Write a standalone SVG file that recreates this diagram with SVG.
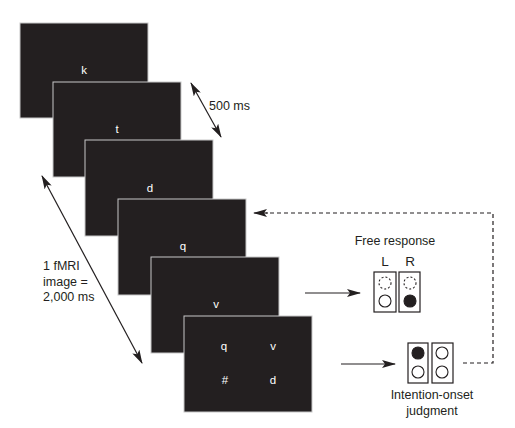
<svg xmlns="http://www.w3.org/2000/svg" width="515" height="428" viewBox="0 0 515 428">
<defs>
<style>
.frame{fill:#231f20;stroke:#c8c8c8;stroke-width:1}
.ltr{font-family:"Liberation Sans",Arial,sans-serif;font-size:11.5px;fill:#ffffff;text-anchor:middle}
.lbl{font-family:"Liberation Sans",Arial,sans-serif;font-size:12.5px;fill:#231f20}
.mid{text-anchor:middle}
.line{stroke:#231f20;stroke-width:1.2;fill:none}
.dash{stroke:#231f20;stroke-width:1.2;fill:none;stroke-dasharray:4,3}
.box{fill:#ffffff;stroke:#231f20;stroke-width:1.2}
.circ{fill:#ffffff;stroke:#231f20;stroke-width:1.1}
.circd{fill:#ffffff;stroke:#231f20;stroke-width:1.1;stroke-dasharray:2,2}
.circf{fill:#231f20;stroke:#231f20;stroke-width:1.1}
</style>
<marker id="ah" viewBox="0 0 14 8" refX="13" refY="4" markerWidth="14" markerHeight="8" markerUnits="userSpaceOnUse" orient="auto-start-reverse">
<path d="M0,0 L14,4 L0,8 L3,4 z" fill="#231f20"/>
</marker>
</defs>
<rect width="515" height="428" fill="#ffffff"/>
<g id="frame1"><rect class="frame" x="20" y="23" width="128" height="95"/><text class="ltr" x="84" y="74">k</text></g>
<g id="frame2"><rect class="frame" x="53" y="82" width="128" height="95"/><text class="ltr" x="117" y="133">t</text></g>
<g id="frame3"><rect class="frame" x="85" y="140" width="128" height="96"/><text class="ltr" x="150" y="192">d</text></g>
<g id="frame4"><rect class="frame" x="118" y="199" width="128" height="96"/><text class="ltr" x="183" y="250">q</text></g>
<g id="frame5"><rect class="frame" x="151" y="257" width="128" height="96"/><text class="ltr" x="216" y="308">v</text></g>
<g id="frame6"><rect class="frame" x="184" y="316" width="128" height="96"/>
<text class="ltr" x="224" y="350">q</text><text class="ltr" x="273" y="350">v</text>
<text class="ltr" x="225" y="384">#</text><text class="ltr" x="273" y="384">d</text></g>
<g id="label-500"><text class="lbl" x="209" y="110">500 ms</text></g>
<g id="label-fmri"><text class="lbl" x="43" y="270">1 fMRI</text><text class="lbl" x="43" y="286">image =</text><text class="lbl" x="43" y="301">2,000 ms</text></g>
<g id="free-response">
<text class="lbl mid" x="395" y="245">Free response</text>
<text class="lbl mid" x="385" y="266" style="font-size:13.5px">L</text>
<text class="lbl mid" x="410" y="266" style="font-size:13.5px">R</text>
<rect class="box" x="374" y="272" width="22" height="40"/>
<rect class="box" x="399" y="272" width="21" height="40"/>
<circle class="circd" cx="385" cy="283" r="6"/>
<circle class="circ" cx="385" cy="301" r="6"/>
<circle class="circd" cx="410" cy="283" r="6"/>
<circle class="circf" cx="410" cy="301" r="6"/>
</g>
<g id="intention-onset">
<rect class="box" x="408" y="343" width="20" height="40"/>
<rect class="box" x="432" y="343" width="21" height="40"/>
<circle class="circf" cx="418" cy="353" r="6"/>
<circle class="circ" cx="418" cy="372" r="6"/>
<circle class="circ" cx="442" cy="353" r="6"/>
<circle class="circ" cx="442" cy="372" r="6"/>
<text class="lbl mid" x="432" y="399">Intention-onset</text>
<text class="lbl mid" x="432" y="415">judgment</text>
</g>
<g id="connectors">
<line class="line" x1="191" y1="83" x2="221" y2="137" marker-start="url(#ah)" marker-end="url(#ah)"/>
<line class="line" x1="42" y1="176" x2="142" y2="363" marker-start="url(#ah)" marker-end="url(#ah)"/>
<line class="line" x1="305" y1="293" x2="360" y2="293" marker-end="url(#ah)"/>
<line class="line" x1="341" y1="364" x2="395" y2="364" marker-end="url(#ah)"/>
<polyline class="dash" points="463,363 493,363 493,213 266,213"/>
<line class="line" x1="268" y1="213" x2="254" y2="213" marker-end="url(#ah)"/>
</g>
</svg>
